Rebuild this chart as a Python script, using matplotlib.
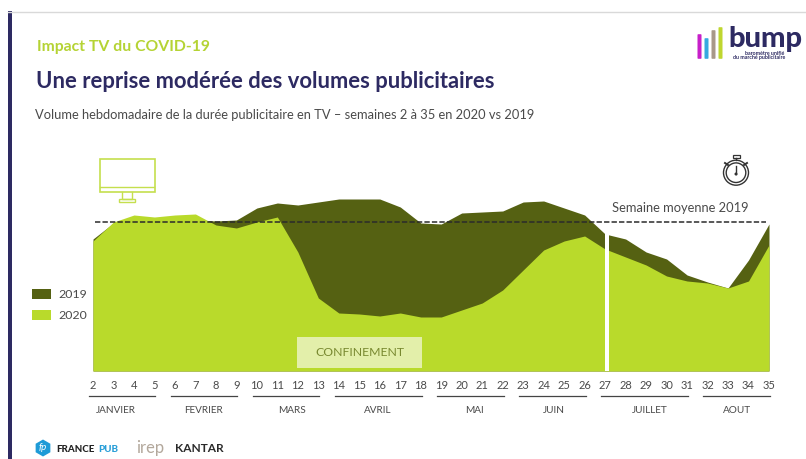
import matplotlib
matplotlib.use('Agg')
import matplotlib.pyplot as plt
from matplotlib.patches import Rectangle, Circle, RegularPolygon, FancyBboxPatch

plt.rcParams['font.family'] = ['Lato', 'DejaVu Sans']

# Data (height of the area, 149 = average week 2019)
weeks = list(range(2, 36))
vol_2019 = [132, 148, 150, 150, 150, 151, 150, 151, 163, 168, 166, 169, 172, 172, 172, 164, 148,
            147, 158, 159, 160, 169, 170, 163, 156, 137, 132, 119, 112, 96, 89, 83, 111, 147]
vol_2020 = [130, 149, 156, 154, 156, 157, 146, 143, 149, 154, 119, 73, 58, 57, 55, 58, 54,
            54, 61, 68, 81, 101, 121, 130, 135, 122, 114, 106, 95, 90, 88, 83, 90, 126]
avg_2019 = 149
months = ['JANVIER', 'FEVRIER', 'MARS', 'AVRIL', 'MAI', 'JUIN', 'JUILLET', 'AOUT']
month_start = [2, 6, 10, 14, 19, 23, 27, 32]
month_end = [5, 9, 13, 18, 22, 26, 31, 35]
month_label_pos = [3.12, 7.37, 11.72, 15.92, 20.6, 24.5, 29.2, 33.45]

DARK = '#556112'
LIME = '#B9DA2B'
NAVY = '#2D2A62'
TEXT = '#4A4A4A'

W, H = 806, 459
fig = plt.figure(figsize=(W / 100, H / 100), dpi=100)

# Page decoration, in pixels
page = fig.add_axes([0, 0, 1, 1])
page.set_xlim(0, W)
page.set_ylim(H, 0)
page.axis('off')

page.plot([8, W], [11.5, 11.5], color='#D9D9D9', lw=1)
page.add_patch(Rectangle((7.5, 11), 4.5, H - 11, color=NAVY, lw=0))
page.text(37, 47, 'Impact TV du COVID-19', color='#B5D334', fontsize=11.3, fontweight='bold', va='center')
page.text(36, 81.5, 'Une reprise modérée des volumes publicitaires', color=NAVY, fontsize=15.8,
          fontweight='bold', va='center')
page.text(35, 115, 'Volume hebdomadaire de la durée publicitaire en TV – semaines 2 à 35 en 2020 vs 2019',
          color=TEXT, fontsize=9.27, va='center')

# Main chart
ax = fig.add_axes([93 / W, (H - 371) / H, 676 / W, 180 / H], zorder=2)
ax.patch.set_alpha(0)
ax.fill_between(weeks, vol_2019, color=DARK, lw=0, label='2019')
ax.fill_between(weeks, vol_2020, color=LIME, lw=0, label='2020')
ax.set_xlim(2, 35)
ax.set_ylim(0, 180)
ax.axvspan(27, 27.17, color='white', lw=0)
ax.plot([2.1, 34.85], [avg_2019, avg_2019], color='#2B2B2B', lw=1.1, dashes=(3.5, 1.4))
for side in ax.spines:
    ax.spines[side].set_visible(False)
ax.set_yticks([])
ax.set_xticks(weeks)
ax.tick_params(axis='x', length=0, pad=6.5, labelsize=8, labelcolor=TEXT)

# Month brackets under the weeks
trans = ax.get_xaxis_transform()
for name, start, end, pos in zip(months, month_start, month_end, month_label_pos):
    ax.plot([start - 0.2, end + 0.05], [-0.139, -0.139], color='#444444', lw=0.9, transform=trans, clip_on=False)
    ax.text(pos, -0.217, name, transform=trans, ha='center', va='center', fontsize=7.2, color=TEXT)

ax.legend(loc='upper left', bbox_to_anchor=(32 / W, (H - 288.5) / H), bbox_transform=fig.transFigure, frameon=False,
          fontsize=8.9, labelcolor=TEXT, handlelength=1.55, handleheight=0.93, handletextpad=0.55,
          labelspacing=0.78, borderpad=0, borderaxespad=0)

# Overlay with the labels on the chart
over = fig.add_axes([0, 0, 1, 1], zorder=3)
over.set_xlim(0, W)
over.set_ylim(H, 0)
over.axis('off')
over.add_patch(Rectangle((297, 337), 125, 31, color='#E3EFAA', lw=0))
over.text(359.5, 353, 'CONFINEMENT', ha='center', va='center', color='#78882F', fontsize=8.8)
over.text(680.5, 208, 'Semaine moyenne 2019', ha='center', va='center', color=TEXT, fontsize=9.3)

# TV icon
ic = '#C5DF4E'
over.add_patch(Rectangle((99.5, 158.5), 55, 33.5, fill=False, ec=ic, lw=1.2))
over.plot([100, 154], [187, 187], color=ic, lw=1)
over.plot([122, 122, 132, 132], [192, 199, 199, 192], color=ic, lw=1)
over.add_patch(Rectangle((119, 199), 16, 3.3, fill=False, ec=ic, lw=1))

# Stopwatch icon
sw = '#333333'
over.add_patch(Circle((736, 172.7), 12.5, fill=False, ec=sw, lw=1))
over.add_patch(Circle((736, 172.7), 9.8, fill=False, ec=sw, lw=1))
over.plot([736, 736], [166, 174], color=sw, lw=1)
over.add_patch(Circle((736, 174), 1.5, color=sw, lw=0))
over.add_patch(Rectangle((732.5, 154.5), 7, 3, fill=False, ec=sw, lw=0.9))
over.plot([736, 736], [157.5, 160], color=sw, lw=1)
over.plot([725, 728], [163, 165], color=sw, lw=1.4)
over.plot([747, 744], [163, 165], color=sw, lw=1.4)

# bump logo
for x, top, col in zip([699.5, 706.5, 713.5, 720.5], [34, 38, 30, 27], ['#C71FC9', '#36A9E0', '#A89888', '#BFD62F']):
    over.add_patch(FancyBboxPatch((x - 1.2, top + 1), 2.4, 57 - top, boxstyle='round,pad=0.8', color=col, lw=0))
over.text(765.5, 39, 'bump', ha='center', va='center', color=NAVY, fontsize=21, fontweight='black')
over.text(784, 53.5, 'baromètre unifié', ha='right', va='center', color=NAVY, fontsize=3.8, fontweight='bold')
over.text(785, 58, 'du marché publicitaire', ha='right', va='center', color=NAVY, fontsize=3.8, fontweight='bold')

# Footer logos
over.add_patch(RegularPolygon((43, 448), 6, radius=8.5, color='#1E9BD7', lw=0))
over.text(43, 448, 'fp', ha='center', va='center', color='white', fontsize=7, style='italic')
over.text(56, 449, 'FRANCE', va='center', color='#222222', fontsize=7, fontweight='black')
over.text(98, 449, 'PUB', va='center', color='#2A9FD8', fontsize=7, fontweight='black')
over.text(136, 447.5, 'irep', va='center', color='#B3A89C', fontsize=12)
over.text(175.5, 448.5, 'KANTAR', va='center', color='#2A2A2A', fontsize=8.6, fontweight='bold')

fig.savefig('out.png', dpi=100)
